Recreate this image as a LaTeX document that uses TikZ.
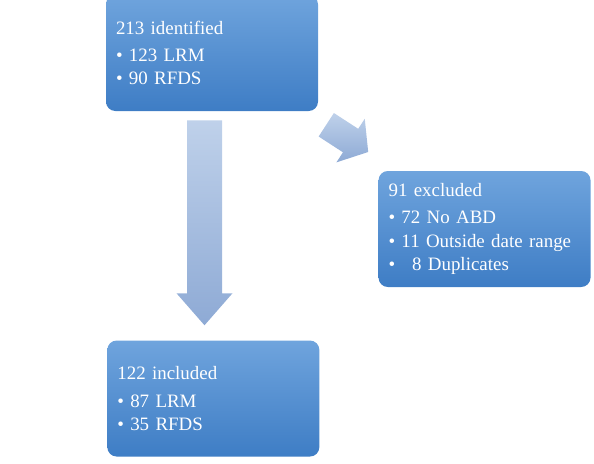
\documentclass[tikz,border=0pt]{standalone}
\usepackage{fontspec}
\setmainfont{Liberation Serif}
\usetikzlibrary{positioning,calc}
\definecolor{boxtop}{HTML}{6FA4DD}
\definecolor{boxbottom}{HTML}{3E7DC5}
\definecolor{arrowtop}{HTML}{BFD1EA}
\definecolor{arrowbottom}{HTML}{8EAAD5}
\tikzset{
    countbox/.style={
        rectangle, rounded corners=7pt,
        top color=boxtop, bottom color=boxbottom,
        text=white, align=left,
        minimum width=159pt, minimum height=87pt,
        text width=144pt, inner xsep=7.5pt,
        font=\fontsize{14.2}{17.5}\selectfont
    },
    flowshade/.style={
        top color=arrowtop, bottom color=arrowbottom
    },
}
% block arrow: tail, angle, length, shaft half width, head half width, head length
\newcommand{\blockarrow}[6]{%
    \shade[flowshade] ($(#1)+(#2+90:#4)$) -- ($(#1)+(#2:#3-#6)+(#2+90:#4)$)
        -- ($(#1)+(#2:#3-#6)+(#2+90:#5)$) -- ($(#1)+(#2:#3)$)
        -- ($(#1)+(#2:#3-#6)+(#2-90:#5)$) -- ($(#1)+(#2:#3-#6)+(#2-90:#4)$)
        -- ($(#1)+(#2-90:#4)$) -- cycle;
}
\begin{document}
\begin{tikzpicture}[x=0.75pt, y=-0.75pt]
    \useasboundingbox (0,0) rectangle (594,464);

    % Counts
    \node[countbox] (ident) at (212,53)
        {213 identified\\[3pt] \textbullet\ 123 LRM\\ \textbullet\ 90 RFDS};
    \node[countbox, right=45pt of ident, yshift=-132pt] (excl)
        {91 excluded\\[3pt] \textbullet\ 72 No ABD\\ \textbullet\ 11 Outside date range\\ \textbullet\hspace{8pt}\ 8 Duplicates};
    \node[countbox, below=171.75pt of ident, xshift=1pt] (incl)
        {122 included\\[3pt] \textbullet\ 87 LRM\\ \textbullet\ 35 RFDS};

    % Flows
    \coordinate (keep) at ($(ident.south)+(-7.5,9)$);
    \coordinate (drop) at ($(ident.south east)+(8,13.5)$);
    \blockarrow{keep}{90}{205}{17.5}{28}{32}
    \blockarrow{drop}{33}{50}{14}{26}{21}

\end{tikzpicture}
\end{document}
